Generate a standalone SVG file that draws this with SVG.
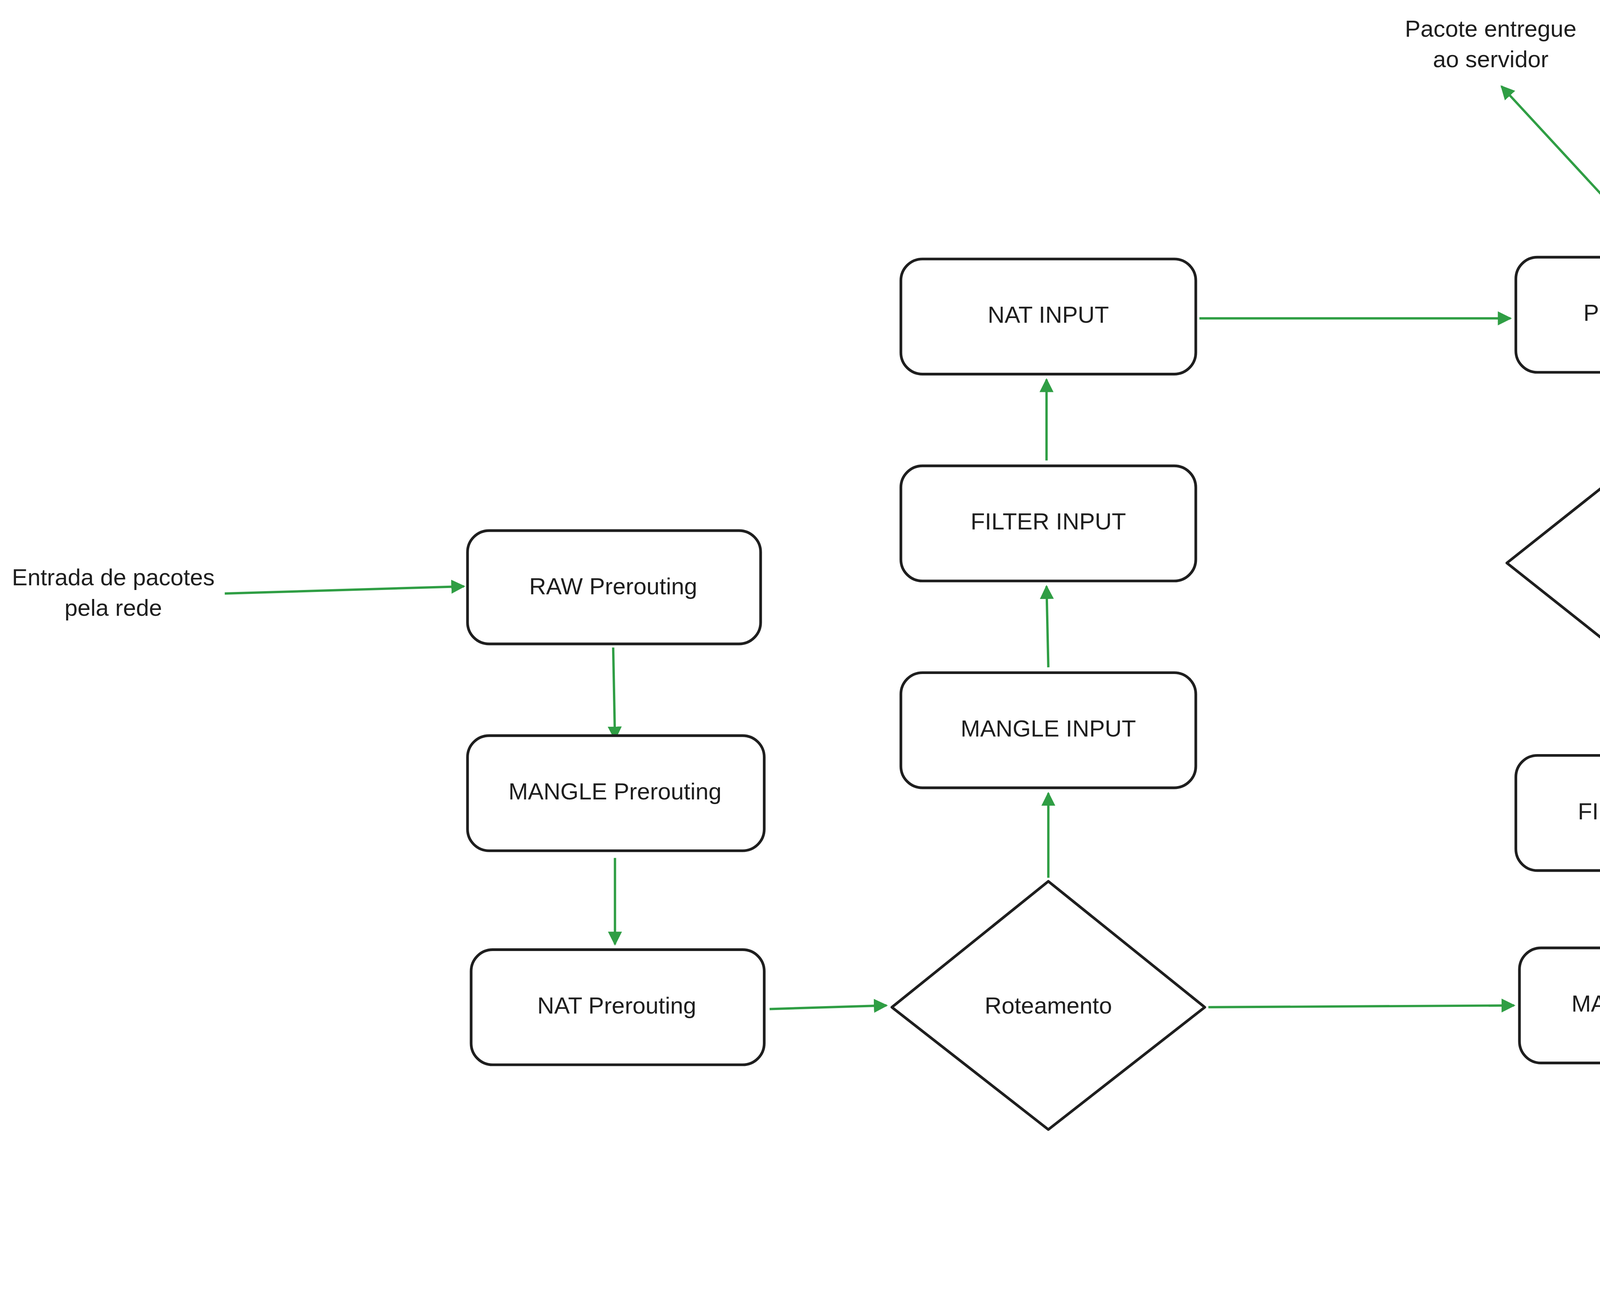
<svg xmlns="http://www.w3.org/2000/svg" width="7218" height="3299" viewBox="0 0 7218 3299">
<defs>
<style>
.n{fill:#fff;stroke:#1e1e1e;stroke-width:1.5;stroke-linejoin:round}
.t{font-family:"Liberation Sans",Arial,sans-serif;font-size:13px;fill:#1e1e1e;text-anchor:middle;dominant-baseline:middle}
.g{stroke:#2f9e44;stroke-width:1.3;fill:none;marker-end:url(#ag)}
.b{stroke:#1971c2;stroke-width:1.3;fill:none;marker-end:url(#ab)}
</style>
<marker id="ag" viewBox="0 0 10 10" refX="9" refY="5" markerWidth="6" markerHeight="6" orient="auto"><path d="M0,0 L10,5 L0,10 z" fill="#2f9e44"/></marker>
<marker id="ab" viewBox="0 0 10 10" refX="9" refY="5" markerWidth="6" markerHeight="6" orient="auto"><path d="M0,0 L10,5 L0,10 z" fill="#1971c2"/></marker>
</defs>
<rect width="7218" height="3299" fill="#fff"/>
<g transform="scale(4.6033)">
<g id="connectors">
<path class="g" d="M125,330 L258,326"/>
<path class="g" d="M341,360 L342,411"/>
<path class="g" d="M342,477 L342,525"/>
<path class="g" d="M428,561 L493,559"/>
<path class="g" d="M583,488 L583,441"/>
<path class="g" d="M583,371 L582,326"/>
<path class="g" d="M582,256 L582,211"/>
<path class="g" d="M667,177 L840,177"/>
<path class="g" d="M672,560 L842,559"/>
<path class="g" d="M927,525 L927,487"/>
<path class="g" d="M920,140 L835,48"/>
<path class="b" d="M995,42 L928,140"/>
<path class="b" d="M925,211 L925,241"/>
<path class="b" d="M1015,310 C1080,180 1100,150 1192,105"/>
<path class="b" d="M1275,138 L1277,178"/>
<path class="b" d="M1276,250 L1277,293"/>
<path class="b" d="M1277,365 L1278,410"/>
<path class="b" d="M1277,482 L1277,528"/>
<path class="b" d="M1009,449 C1070,455 1090,475 1193,563"/>
<path class="b" d="M1277,600 L1278,642"/>
<path class="b" d="M1364,679 L1458,677"/>
</g>
<g id="raw-prerouting"><rect class="n" x="260" y="295" width="163" height="63" rx="12"/><text class="t" x="341" y="327">RAW Prerouting</text></g>
<g id="mangle-prerouting"><rect class="n" x="260" y="409" width="165" height="64" rx="12"/><text class="t" x="342" y="441">MANGLE Prerouting</text></g>
<g id="nat-prerouting"><rect class="n" x="262" y="528" width="163" height="64" rx="12"/><text class="t" x="343" y="560">NAT Prerouting</text></g>
<g id="roteamento1"><path class="n" d="M583,490 L670,560 L583,628 L496,560 Z"/><text class="t" x="583" y="560">Roteamento</text></g>
<g id="mangle-input"><rect class="n" x="501" y="374" width="164" height="64" rx="12"/><text class="t" x="583" y="406">MANGLE INPUT</text></g>
<g id="filter-input"><rect class="n" x="501" y="259" width="164" height="64" rx="12"/><text class="t" x="583" y="291">FILTER INPUT</text></g>
<g id="nat-input"><rect class="n" x="501" y="144" width="164" height="64" rx="12"/><text class="t" x="583" y="176">NAT INPUT</text></g>
<g id="processo-local"><rect class="n" x="843" y="143" width="163" height="64" rx="12"/><text class="t" x="925" y="175">Processo Local</text></g>
<g id="roteamento2"><path class="n" d="M925,244 L1013,313 L925,382 L838,313 Z"/><text class="t" x="925" y="313">Roteamento</text></g>
<g id="filter-forward"><rect class="n" x="843" y="420" width="164" height="64" rx="12"/><text class="t" x="925" y="452">FILTER Forward</text></g>
<g id="mangle-forward"><rect class="n" x="845" y="527" width="163" height="64" rx="12"/><text class="t" x="927" y="559">MANGLE Forward</text></g>
<g id="raw-output"><rect class="n" x="1195" y="69" width="165" height="64" rx="12"/><text class="t" x="1277" y="101">RAW Output</text></g>
<g id="mangle-output"><rect class="n" x="1196" y="182" width="164" height="64" rx="12"/><text class="t" x="1278" y="214">MANGLE Output</text></g>
<g id="nat-output"><rect class="n" x="1196" y="297" width="164" height="64" rx="12"/><text class="t" x="1278" y="329">NAT Output</text></g>
<g id="filter-output"><rect class="n" x="1196" y="414" width="164" height="64" rx="12"/><text class="t" x="1278" y="446">FILTER Output</text></g>
<g id="mangle-postrouting"><rect class="n" x="1196" y="532" width="164" height="64" rx="12"/><text class="t" x="1278" y="564">MANGLE Postrouting</text></g>
<g id="nat-postrouting"><rect class="n" x="1196" y="646" width="164" height="64" rx="12"/><text class="t" x="1278" y="678">NAT Postrouting</text></g>
<g id="labels">
<text class="t" x="63" y="322">Entrada de pacotes</text><text class="t" x="63" y="339">pela rede</text>
<text class="t" x="829" y="17">Pacote entregue</text><text class="t" x="829" y="34">ao servidor</text>
<text class="t" x="995" y="15">Pacote gerado no servidor</text><text class="t" x="995" y="32">precisando sair</text>
<text class="t" x="1497" y="670">Saída de pacotes</text><text class="t" x="1497" y="687">pela rede</text>
</g>
</g>
</svg>
